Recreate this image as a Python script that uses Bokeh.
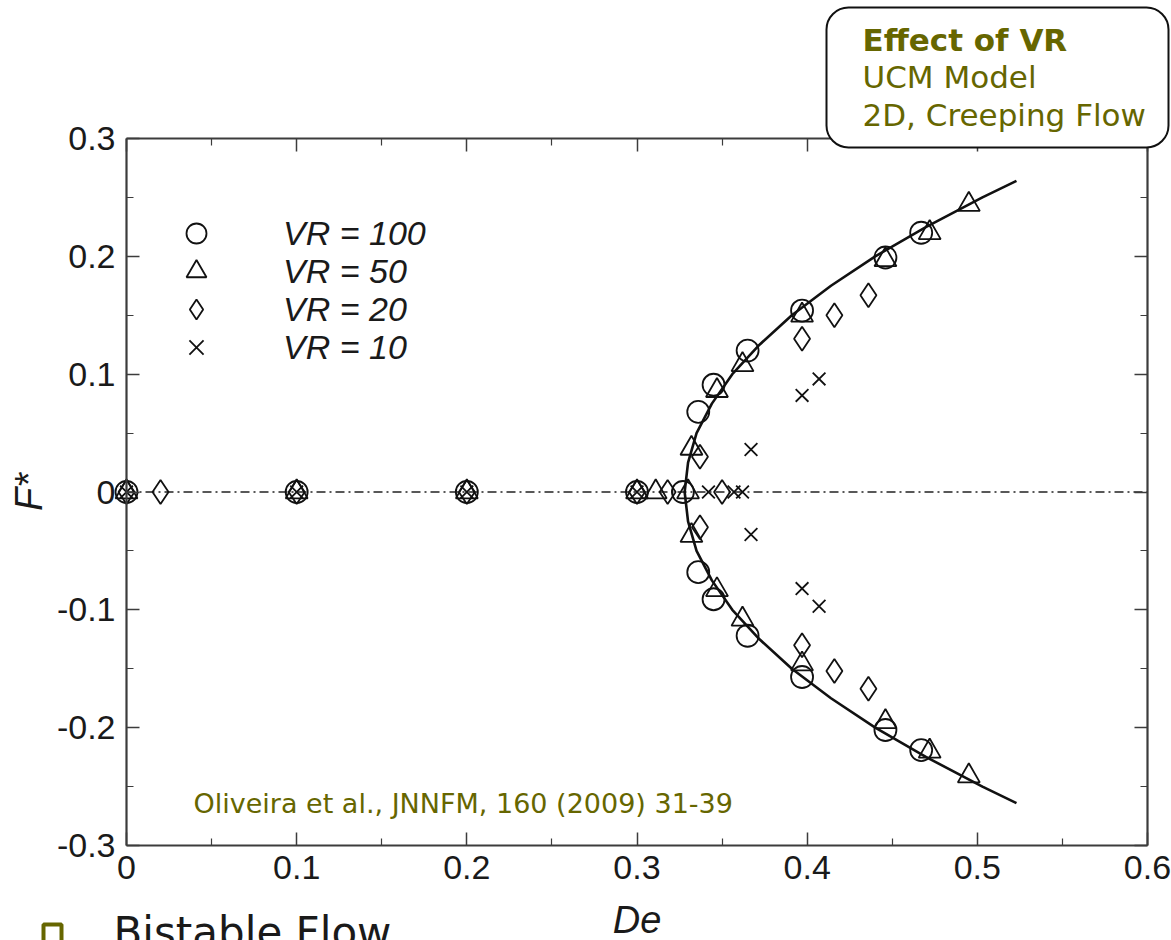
from bokeh.plotting import figure
from bokeh.models import (Range1d, LinearAxis, Legend, LegendItem, Label,
                          FixedTicker, NumeralTickFormatter, BoxAnnotation)
from bokeh.embed import file_html
from bokeh.resources import INLINE

# ---------------- data ----------------
x_ticks = [0, 0.1, 0.2, 0.3, 0.4, 0.5, 0.6]
x_minor = [0.05, 0.15, 0.25, 0.35, 0.45, 0.55]
y_ticks = [-0.3, -0.2, -0.1, 0, 0.1, 0.2, 0.3]
y_minor = [-0.25, -0.15, -0.05, 0.05, 0.15, 0.25]

vr100_de = [0, 0.1, 0.2, 0.3, 0.327, 0.336, 0.336, 0.345, 0.345, 0.365, 0.365,
            0.397, 0.397, 0.446, 0.446, 0.467, 0.467]
vr100_f = [0, 0, 0, 0, 0, 0.068, -0.068, 0.091, -0.091, 0.12, -0.122,
           0.154, -0.157, 0.199, -0.202, 0.22, -0.219]

vr50_de = [0, 0.1, 0.2, 0.3, 0.311, 0.33, 0.332, 0.332, 0.347, 0.347, 0.362, 0.362,
           0.397, 0.397, 0.446, 0.446, 0.472, 0.472, 0.495, 0.495]
vr50_f = [0, 0, 0, 0, 0, 0, 0.037, -0.037, 0.086, -0.083, 0.108, -0.108,
          0.15, -0.146, 0.197, -0.195, 0.22, -0.22, 0.244, -0.241]

vr20_de = [0, 0.02, 0.1, 0.2, 0.3, 0.318, 0.35, 0.337, 0.337, 0.397, 0.397,
           0.416, 0.416, 0.436, 0.436]
vr20_f = [0, 0, 0, 0, 0, 0, 0, 0.03, -0.03, 0.13, -0.13, 0.15, -0.152, 0.167, -0.167]

vr10_de = [0, 0.1, 0.2, 0.3, 0.342, 0.357, 0.362, 0.367, 0.367, 0.397, 0.397,
           0.407, 0.407]
vr10_f = [0, 0, 0, 0, 0, 0, 0, 0.036, -0.036, 0.082, -0.082, 0.096, -0.097]

curve_f = [-0.264, -0.25, -0.225, -0.2, -0.175, -0.15, -0.125, -0.1, -0.075, -0.05,
           -0.025, 0, 0.025, 0.05, 0.075, 0.1, 0.125, 0.15, 0.175, 0.2, 0.225, 0.25,
           0.264]
curve_de = [0.523, 0.503, 0.47, 0.44, 0.414, 0.391, 0.372, 0.356, 0.344, 0.335,
            0.33, 0.328, 0.33, 0.335, 0.344, 0.356, 0.372, 0.391, 0.414, 0.44,
            0.47, 0.503, 0.523]

zero_de = [0, 0.6]
zero_f = [0, 0]

series_labels = ["VR = 100", "VR = 50", "VR = 20", "VR = 10"]

# ---------------- layout (pixels) ----------------
W, H = 1171, 940
FL, FR, FT, FB = 126, 1147, 138, 845      # where the plotting box sits
XMIN, XMAX, YMIN, YMAX = 0.0, 0.6, -0.3, 0.3
sx = (XMAX - XMIN) / (FR - FL)
sy = (YMAX - YMIN) / (FB - FT)

OLIVE = "#666600"
AX = "#3c3c3c"
TXT = "#1a1a1a"

p = figure(width=W, height=H, output_backend="svg", toolbar_location=None,
           x_axis_location=None, y_axis_location=None,
           x_range=Range1d(XMIN - FL * sx, XMAX + (W - FR) * sx),
           y_range=Range1d(YMIN - (H - FB) * sy, YMAX + FT * sy),
           min_border=0)
p.grid.visible = False
p.outline_line_color = None
p.background_fill_color = "white"
p.border_fill_color = "white"

xt = FixedTicker(ticks=x_ticks, minor_ticks=x_minor)
yt = FixedTicker(ticks=y_ticks, minor_ticks=y_minor)
fmt = NumeralTickFormatter(format="0.[0]")

xa = LinearAxis(ticker=xt, formatter=fmt, fixed_location=YMIN, bounds=(XMIN, XMAX))
ya = LinearAxis(ticker=yt, formatter=fmt, fixed_location=XMIN, bounds=(YMIN, YMAX))
top = LinearAxis(ticker=xt, fixed_location=YMAX, bounds=(XMIN, XMAX),
                 major_label_text_color=None)
right = LinearAxis(ticker=yt, fixed_location=XMAX, bounds=(YMIN, YMAX),
                   major_label_text_color=None)
p.add_layout(xa, "below")
p.add_layout(ya, "left")
p.add_layout(top, "above")
p.add_layout(right, "right")

for ax in [xa, ya, top, right]:
    ax.major_tick_in = 13
    ax.major_tick_out = 0
    ax.minor_tick_in = 7
    ax.minor_tick_out = 0
    ax.axis_line_color = AX
    ax.axis_line_width = 2.2
    ax.major_tick_line_color = AX
    ax.major_tick_line_width = 1.5
    ax.minor_tick_line_color = AX
    ax.minor_tick_line_width = 1.2

for ax in [xa, ya]:
    ax.major_label_text_font = "Liberation Sans"
    ax.major_label_text_font_size = "34px"
    ax.major_label_text_color = TXT
    ax.axis_label_text_font = "Liberation Sans"
    ax.axis_label_text_font_size = "38px"
    ax.axis_label_text_font_style = "italic"
    ax.axis_label_text_color = TXT

xa.major_label_standoff = 10
xa.axis_label = "De"
xa.axis_label_standoff = 17
ya.major_label_standoff = 11
ya.axis_label = "F*"
ya.axis_label_standoff = 4

# zero line and fitted curve
p.line(zero_de, zero_f, line_color="#222222", line_width=1.6, line_dash="9 4 2 4")
p.line(curve_de, curve_f, line_color="#111111", line_width=2.6)

common = dict(fill_color=None, line_color="#111111", line_width=1.8)
r100 = p.scatter(vr100_de, vr100_f, marker="circle", size=22, **common)
r50 = p.scatter(vr50_de, vr50_f, marker="triangle", size=22, **common)
r20 = p.scatter(vr20_de, vr20_f, marker="diamond", size=24, **common)
r10 = p.scatter(vr10_de, vr10_f, marker="x", size=18, line_color="#111111",
                line_width=1.8)

# legend: one row per entry so that the symbols keep their size at a 38 px pitch
row_centers = [233, 271, 309, 347]
for lab, rend, cy in zip(series_labels, [r100, r50, r20, r10], row_centers):
    p.add_layout(Legend(
        items=[LegendItem(label=lab, renderers=[rend])],
        location=(171, H - cy - 25), orientation="vertical", padding=0, margin=0,
        spacing=0, label_height=50, glyph_height=50, glyph_width=50,
        label_standoff=62, label_text_font="Liberation Sans",
        label_text_font_size="34px", label_text_font_style="italic",
        label_text_color=TXT, border_line_alpha=0, background_fill_alpha=0))

# citation
p.add_layout(Label(x=193, y=H - 803, x_units="screen", y_units="screen",
                   text="Oliveira et al., JNNFM, 160 (2009) 31-39",
                   text_font="DejaVu Sans", text_font_size="27px",
                   text_color=OLIVE, text_baseline="alphabetic"))

# top-right info box
p.add_layout(BoxAnnotation(left=826, right=1168, top=H - 7, bottom=H - 147,
                           left_units="screen", right_units="screen",
                           top_units="screen", bottom_units="screen",
                           fill_color="white", fill_alpha=1.0,
                           line_color="#111111", line_alpha=1.0, line_width=2,
                           border_radius=22))
box_lines = [("Effect of VR", "bold", 39), ("UCM Model", "normal", 76),
             ("2D, Creeping Flow", "normal", 114)]
for txt, style, base in box_lines:
    p.add_layout(Label(x=862, y=H - base, x_units="screen", y_units="screen",
                       text=txt, text_font="DejaVu Sans", text_font_size="31px",
                       text_font_style=style, text_color=OLIVE,
                       text_baseline="alphabetic"))

# bottom slide bullet (cut by the window edge, as in the slide)
p.add_layout(BoxAnnotation(left=43, right=61, top=H - 924, bottom=H - 960,
                           left_units="screen", right_units="screen",
                           top_units="screen", bottom_units="screen",
                           fill_alpha=0, line_color=OLIVE, line_alpha=1.0,
                           line_width=4))
p.add_layout(Label(x=113, y=H - 932, x_units="screen", y_units="screen",
                   text="Bistable Flow", text_font="DejaVu Sans",
                   text_font_size="42px", text_color=TXT,
                   text_baseline="alphabetic"))

open("out.html", "w").write(file_html(p, INLINE))
